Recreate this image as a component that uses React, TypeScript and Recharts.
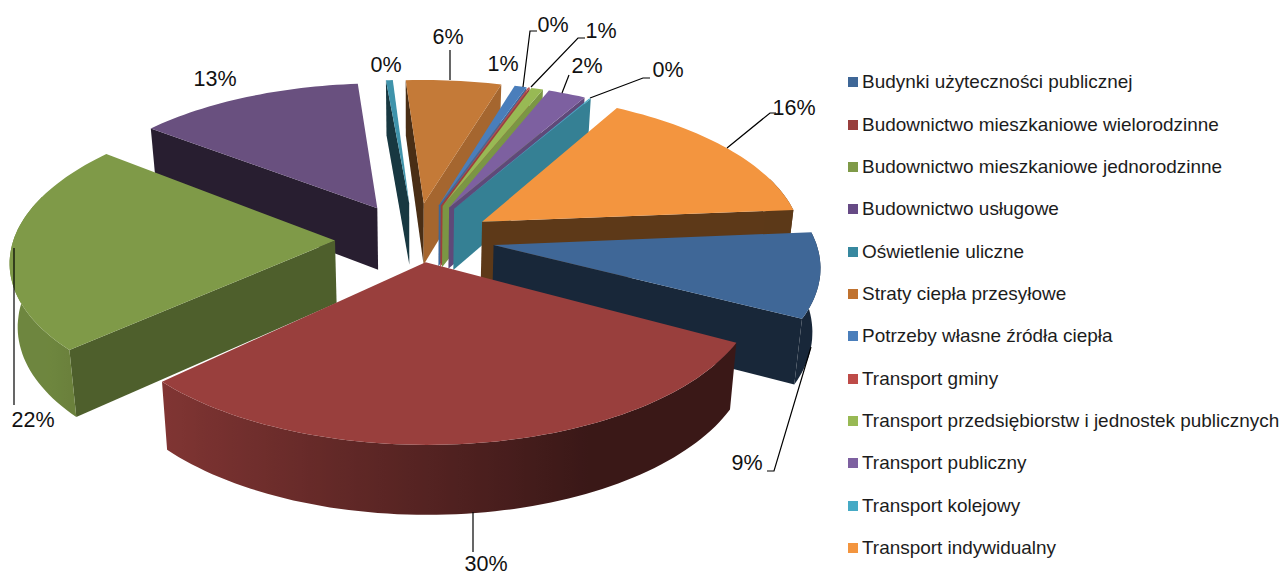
import { Legend, Pie, PieChart } from "recharts"

const CATEGORIES = [
  "Budynki użyteczności publicznej",
  "Budownictwo mieszkaniowe wielorodzinne",
  "Budownictwo mieszkaniowe jednorodzinne",
  "Budownictwo usługowe",
  "Oświetlenie uliczne",
  "Straty ciepła przesyłowe",
  "Potrzeby własne źródła ciepła",
  "Transport gminy",
  "Transport przedsiębiorstw i jednostek publicznych",
  "Transport publiczny",
  "Transport kolejowy",
  "Transport indywidualny",
]
const VALUES = [9, 30, 22.49, 13.25, 0.4, 5.6, 0.7, 0.1, 0.7, 2.2, 0.1, 15.6]
const PERCENT_LABELS = ["9%", "30%", "22%", "13%", "0%", "6%", "1%", "0%", "1%", "2%", "0%", "16%"]
const TOP_COLORS = [
  "#3f6797", "#993f3d", "#7f9a48", "#69507f", "#3f93ab", "#c47a38",
  "#4a7ebb", "#be4b48", "#98b954", "#7d60a0", "#46aac5", "#f3953f",
]
const LEGEND_COLORS = [
  "#3f6797", "#993f3d", "#7f9a48", "#664a85", "#37889f", "#c0722f",
  "#4a7ebb", "#be4b48", "#98b954", "#7d60a0", "#46aac5", "#f3953f",
]

// back to front, Pie draws in data order so each slice gets its own layer
const PAINT_ORDER = [3, 4, 5, 6, 7, 8, 9, 10, 11, 2, 0, 1]

// label centre + leader polyline, same order as CATEGORIES
const LABEL_X = [747, 486, 33, 215, 386, 448, 503, 553, 601, 587, 668, 794]
const LABEL_Y = [463, 564, 420, 79, 65, 37, 64, 25, 31, 66, 70, 108]
const LEADERS = [
  "811,347 774,471 767,471",
  "473,512 473,552",
  "14,248 14,405",
  "",
  "",
  "450,50 450,80",
  "",
  "523,87 530,31 537,31",
  "531,87 578,38 585,38",
  "562,93 569,75",
  "590,98 643,78 650,78",
  "727,148 770,113 776,113",
]

const FIRST_ANGLE = 86.3
const PERSPECTIVE = 0.139
const SQUASH = 0.4625
const EXPLODE_X = 0.25
const EXPLODE_Y = 0.2
const SIDE_DROP = 7
const DEPTH = 62.5

const chartData = CATEGORIES.map((name, i) => ({ name, value: VALUES[i] }))

function shadeColor(hex: string, k: number) {
  const n = parseInt(hex.slice(1), 16)
  const ch = (v: number) => Math.round(Math.min(255, v * k))
  return `rgb(${ch((n >> 16) & 255)},${ch((n >> 8) & 255)},${ch(n & 255)})`
}

const rad = (deg: number) => (deg * Math.PI) / 180

function makeProjector(cx: number, cy: number, radius: number, midAngle: number) {
  const sinMid = Math.sin(rad(midAngle))
  const offU = EXPLODE_X * sinMid
  const offV = -EXPLODE_Y * Math.cos(rad(midAngle))
  return (theta: number, r: number, h: number): [number, number] => {
    const u = offU + r * Math.sin(rad(theta))
    const v = offV - r * Math.cos(rad(theta))
    const f = 1 / (1 - PERSPECTIVE * v)
    // slices exploded sideways sit a little lower in the original, mostly at the tip
    const drop = SIDE_DROP * sinMid * sinMid * (1 - 0.5 * r)
    return [
      cx + radius * u * f * (1 - 0.02 * h),
      cy + radius * SQUASH * v * f + drop + h * DEPTH * (1 + 0.1 * v),
    ]
  }
}

const pts = (list: [number, number][]) => list.map((p) => `${p[0].toFixed(1)},${p[1].toFixed(1)}`).join(" ")

function faceShade(nx: number) {
  return 0.38 + 0.5 * Math.pow(Math.max(0, nx), 2)
}

function wallShade(theta: number) {
  return Math.max(0.38, Math.min(0.87, 0.55 - 0.4 * Math.sin(rad(theta))))
}

function Slice3D(props: any) {
  const i = CATEGORIES.indexOf(props.name)
  const color = TOP_COLORS[i]
  // recharts angles run counter-clockwise from 3 o'clock, here clockwise from 12
  const t0 = 90 - props.startAngle
  const t1 = 90 - props.endAngle
  const project = makeProjector(props.cx, props.cy, props.outerRadius, (t0 + t1) / 2)

  const steps = Math.max(2, Math.ceil((t1 - t0) / 1.5))
  const thetas = Array.from({ length: steps + 1 }, (_, k) => t0 + ((t1 - t0) * k) / steps)

  // outer wall only where it faces the viewer, shaded along x with one gradient
  const wallThetas = thetas.filter((a) => Math.cos(rad(a)) <= 0.3)
  const wallXs = wallThetas.map((a) => project(a, 1, 0)[0])
  const xMin = Math.min(...wallXs)
  const xMax = Math.max(...wallXs)
  const stops = wallThetas
    .map((a, k) => ({ x: wallXs[k], c: shadeColor(color, wallShade(a)) }))
    .sort((a, b) => a.x - b.x)
  const gradId = `wall-${i}`

  const face = (theta: number) =>
    pts([project(theta, 0, 0), project(theta, 1, 0), project(theta, 1, 1), project(theta, 0, 1)])
  const startDx = project(t0, 1, 0)[0] - project(t0, 0, 0)[0]
  const endDx = project(t1, 1, 0)[0] - project(t1, 0, 0)[0]
  const startNx = -Math.cos(rad(t0))
  const endNx = Math.cos(rad(t1))

  const top = [project(t0, 0, 0), ...thetas.map((a) => project(a, 1, 0))]

  return (
    <g>
      {startDx < 0 && <polygon points={face(t0)} fill={shadeColor(color, faceShade(startNx))} />}
      {endDx > 0 && <polygon points={face(t1)} fill={shadeColor(color, faceShade(endNx))} />}
      {wallThetas.length > 1 && (
        <>
          <defs>
            <linearGradient id={gradId} gradientUnits="userSpaceOnUse" x1={xMin - 6} x2={xMax + 6} y1={0} y2={0}>
              {stops.map((s, k) => (
                <stop key={k} offset={(s.x - xMin + 6) / (xMax - xMin + 12)} stopColor={s.c} />
              ))}
            </linearGradient>
          </defs>
          <polygon
            points={pts([
              ...wallThetas.map((a) => project(a, 1, 0)),
              ...[...wallThetas].reverse().map((a) => project(a, 1, 1)),
            ])}
            fill={`url(#${gradId})`}
          />
        </>
      )}
      <polygon points={pts(top)} fill={color} />
    </g>
  )
}

function SliceLabel(props: any) {
  const i = CATEGORIES.indexOf(props.name)
  return (
    <g>
      {LEADERS[i] && <polyline points={LEADERS[i]} fill="none" stroke="#000" strokeWidth={1.2} />}
      <text
        x={LABEL_X[i]}
        y={LABEL_Y[i]}
        textAnchor="middle"
        dominantBaseline="central"
        fontFamily="Liberation Sans"
        fontSize={21.5}
        fill="#111"
      >
        {PERCENT_LABELS[i]}
      </text>
    </g>
  )
}

function LegendList() {
  return (
    <div style={{ fontFamily: "Liberation Sans", fontSize: 18.96, color: "#1c1c1c" }}>
      {CATEGORIES.map((name, i) => (
        <div key={name} style={{ height: 42.36, display: "flex", alignItems: "center", whiteSpace: "nowrap" }}>
          <span style={{ width: 10, height: 10, marginRight: 4, background: LEGEND_COLORS[i], flex: "none" }} />
          {name}
        </div>
      ))}
    </div>
  )
}

export default function App() {
  return (
    <div style={{ position: "absolute", left: 0, top: 0 }}>
      <PieChart width={1282} height={572} margin={{ top: 0, right: 0, bottom: 0, left: 0 }}>
        {PAINT_ORDER.map((idx) => (
          <Pie
            key={idx}
            data={chartData}
            dataKey="value"
            nameKey="name"
            cx={415}
            cy={232}
            outerRadius={320}
            startAngle={90 - FIRST_ANGLE}
            endAngle={90 - FIRST_ANGLE - 360}
            stroke="none"
            isAnimationActive={false}
            shape={(p: any) => (CATEGORIES.indexOf(p.name) === idx ? <Slice3D {...p} /> : <g />)}
          />
        ))}
        <Pie
          data={chartData}
          dataKey="value"
          nameKey="name"
          cx={415}
          cy={232}
          outerRadius={320}
          startAngle={90 - FIRST_ANGLE}
          endAngle={90 - FIRST_ANGLE - 360}
          isAnimationActive={false}
          shape={(p: any) => <SliceLabel {...p} />}
        />
        <Legend
          layout="vertical"
          content={() => <LegendList />}
          wrapperStyle={{ left: 848, top: 61, width: 434 }}
        />
      </PieChart>
    </div>
  )
}
